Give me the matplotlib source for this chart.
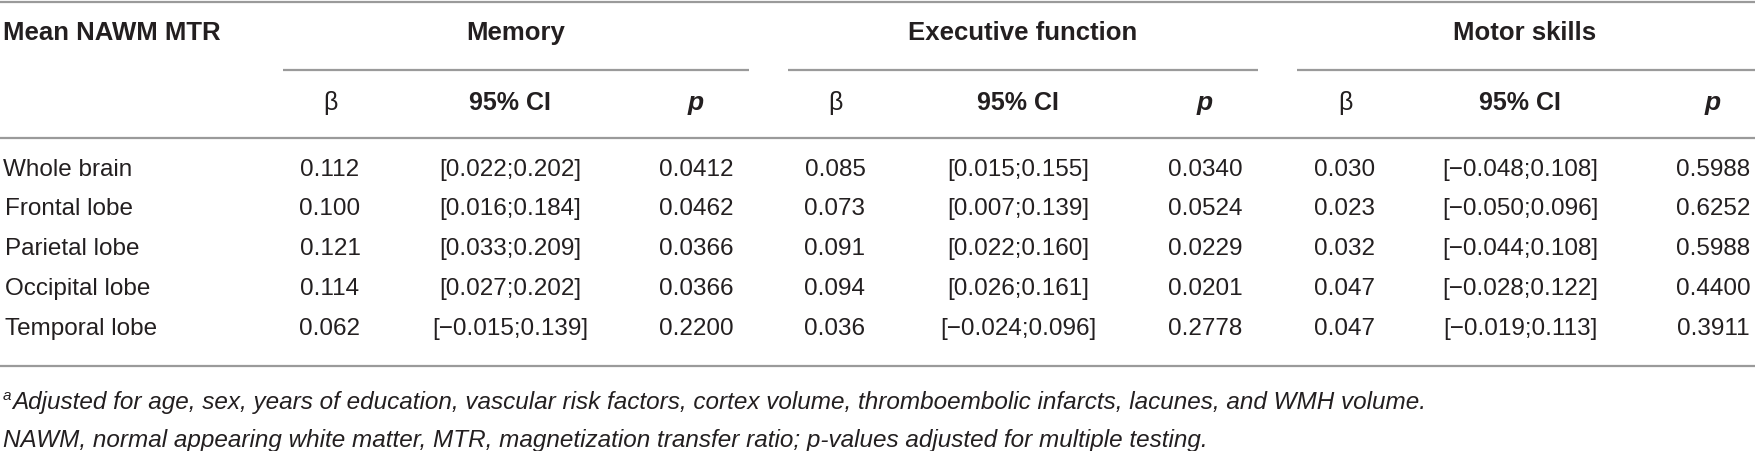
import matplotlib
matplotlib.use("Agg")
import matplotlib.pyplot as plt

rows = ["Whole brain", "Frontal lobe", "Parietal lobe", "Occipital lobe", "Temporal lobe"]
groups = ["Memory", "Executive function", "Motor skills"]

mem_beta = ["0.112", "0.100", "0.121", "0.114", "0.062"]
mem_ci = ["[0.022;0.202]", "[0.016;0.184]", "[0.033;0.209]", "[0.027;0.202]", "[\u22120.015;0.139]"]
mem_p = ["0.0412", "0.0462", "0.0366", "0.0366", "0.2200"]

exe_beta = ["0.085", "0.073", "0.091", "0.094", "0.036"]
exe_ci = ["[0.015;0.155]", "[0.007;0.139]", "[0.022;0.160]", "[0.026;0.161]", "[\u22120.024;0.096]"]
exe_p = ["0.0340", "0.0524", "0.0229", "0.0201", "0.2778"]

mot_beta = ["0.030", "0.023", "0.032", "0.047", "0.047"]
mot_ci = ["[\u22120.048;0.108]", "[\u22120.050;0.096]", "[\u22120.044;0.108]", "[\u22120.028;0.122]", "[\u22120.019;0.113]"]
mot_p = ["0.5988", "0.6252", "0.5988", "0.4400", "0.3911"]

footnote_a = ("Adjusted for age, sex, years of education, vascular risk factors, cortex volume, "
              "thromboembolic infarcts, lacunes, and WMH volume.")
footnote_b = "NAWM, normal appearing white matter, MTR, magnetization transfer ratio; p-values adjusted for multiple testing."

W, H = 1755, 451
FONT = "Liberation Sans"
TXT = "#231f20"
LINE = "#9a9a9a"

fig = plt.figure(figsize=(W / 100, H / 100), dpi=100)
ax = fig.add_axes([0, 0, 1, 1])
ax.set_xlim(0, W)
ax.set_ylim(H, 0)
ax.axis("off")

# layout (pixels)
grp_x = [(283, 749), (788, 1258), (1297, W)]
col_x = [(330, 510, 696), (835, 1018, 1205), (1345, 1520, 1713)]
y_head, y_sub_line, y_sub, y_line = 33, 70, 103, 138
row_y = [170, 209, 249, 289, 329]
y_bottom = 366

def hline(y, x0=0, x1=W):
    ax.plot([x0, x1], [y, y], color=LINE, lw=1.6, solid_capstyle="butt")

hline(1.5)
hline(y_line)
hline(y_bottom)
for x0, x1 in grp_x:
    hline(y_sub_line, x0, x1)

ax.text(3, y_head, "Mean NAWM MTR", fontsize=18.5, fontweight="bold", family=FONT,
        color=TXT, ha="left", va="center")
for (x0, x1), g in zip(grp_x, groups):
    cx = [516, 1023, 1525][groups.index(g)]
    ax.text(cx, y_head, g, fontsize=18.5, fontweight="bold", family=FONT,
            color=TXT, ha="center", va="center")

for bx, cx, px in col_x:
    ax.text(bx, y_sub, "\u03b2", fontsize=18, family=FONT, color=TXT, ha="center", va="center")
    ax.text(cx, y_sub, "95% CI", fontsize=18, fontweight="bold", family=FONT, color=TXT,
            ha="center", va="center")
    ax.text(px, y_sub, "p", fontsize=19, fontweight="bold", style="italic", family=FONT,
            color=TXT, ha="center", va="center")

series = [(mem_beta, mem_ci, mem_p), (exe_beta, exe_ci, exe_p), (mot_beta, mot_ci, mot_p)]
for i, (name, y) in enumerate(zip(rows, row_y)):
    ax.text(3 if i == 0 else 5, y, name, fontsize=17.5, family=FONT, color=TXT,
            ha="left", va="center")
    for (bx, cx, px), (b, c, p) in zip(col_x, series):
        ax.text(bx, y, b[i], fontsize=17.5, family=FONT, color=TXT, ha="center", va="center")
        ax.text(cx, y, c[i], fontsize=17.5, family=FONT, color=TXT, ha="center", va="center")
        ax.text(px, y, p[i], fontsize=17.5, family=FONT, color=TXT, ha="center", va="center")

ax.text(3, 396, "a", fontsize=11, style="italic", family=FONT, color=TXT, ha="left", va="center")
fa = ax.text(12, 402, footnote_a, fontsize=16, style="italic", family=FONT, color=TXT,
             ha="left", va="center")
fb = ax.text(3, 440, footnote_b, fontsize=16, style="italic", family=FONT, color=TXT,
             ha="left", va="center")

# fit footnote size to the reference width
r = fig.canvas.get_renderer()
w = fa.get_window_extent(r).width
scale = (1425 - 12) / w
fa.set_fontsize(16 * scale)
fb.set_fontsize(16 * scale)

fig.savefig("out.png", dpi=100, facecolor="white")
